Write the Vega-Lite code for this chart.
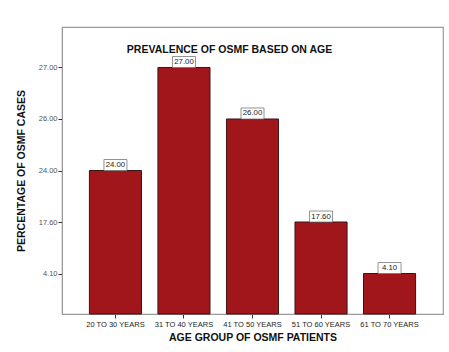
{
  "$schema": "https://vega.github.io/schema/vega-lite/v6.json",
  "width": 381,
  "height": 287,
  "autosize": {"type": "none"},
  "padding": {"left": 62, "top": 27, "right": 6, "bottom": 38},
  "background": "white",
  "config": {
    "font": "Liberation Sans",
    "view": {"stroke": "#9a9a9a", "strokeWidth": 1.2}
  },
  "title": {
    "text": "PREVALENCE OF OSMF BASED ON AGE",
    "fontSize": 10.5,
    "fontWeight": "bold",
    "color": "#111",
    "anchor": "middle",
    "offset": -28,
    "dx": -23
  },
  "data": {
    "values": [
      {"age": "20 TO 30 YEARS", "pct": 24.0},
      {"age": "31 TO 40 YEARS", "pct": 27.0},
      {"age": "41 TO 50 YEARS", "pct": 26.0},
      {"age": "51 TO 60 YEARS", "pct": 17.6},
      {"age": "61 TO 70 YEARS", "pct": 4.1}
    ]
  },
  "encoding": {
    "x": {
      "field": "age",
      "type": "nominal",
      "sort": null,
      "scale": {"paddingInner": 0.24, "paddingOuter": 0.4},
      "axis": {
        "title": "AGE GROUP OF OSMF PATIENTS",
        "titleFontSize": 10.5,
        "titleFontWeight": "bold",
        "titleColor": "#111",
        "titlePadding": 5,
        "labelAngle": 0,
        "labelFontSize": 7.5,
        "labelColor": "#222",
        "labelPadding": 2,
        "tickSize": 4,
        "tickColor": "#333",
        "domainColor": "#9a9a9a"
      }
    },
    "y": {
      "field": "pct",
      "type": "ordinal",
      "sort": "descending",
      "scale": {"type": "point", "padding": 0.786},
      "axis": {
        "title": "PERCENTAGE OF OSMF CASES",
        "titleFontSize": 10.5,
        "titleFontWeight": "bold",
        "titleColor": "#111",
        "titlePadding": 12,
        "labelExpr": "format(datum.value, '.2f')",
        "labelFontSize": 7.5,
        "labelColor": "#555",
        "labelPadding": 1,
        "tickSize": 4,
        "tickColor": "#333",
        "domainColor": "#9a9a9a"
      }
    }
  },
  "layer": [
    {
      "mark": {"type": "bar", "orient": "vertical", "color": "#A0161B", "stroke": "#3a1515", "strokeWidth": 1},
      "encoding": {"y2": {"value": "height"}}
    },
    {
      "mark": {
        "type": "point",
        "shape": "M-1,-0.478L1,-0.478L1,0.478L-1,0.478Z",
        "size": 529,
        "filled": true,
        "fill": "white",
        "opacity": 1,
        "stroke": "#777",
        "strokeWidth": 0.8,
        "yOffset": -5.5
      }
    },
    {
      "mark": {"type": "text", "fontSize": 7.8, "color": "#222", "baseline": "middle", "yOffset": -5.5},
      "encoding": {"text": {"field": "pct", "type": "quantitative", "format": ".2f"}}
    }
  ]
}
